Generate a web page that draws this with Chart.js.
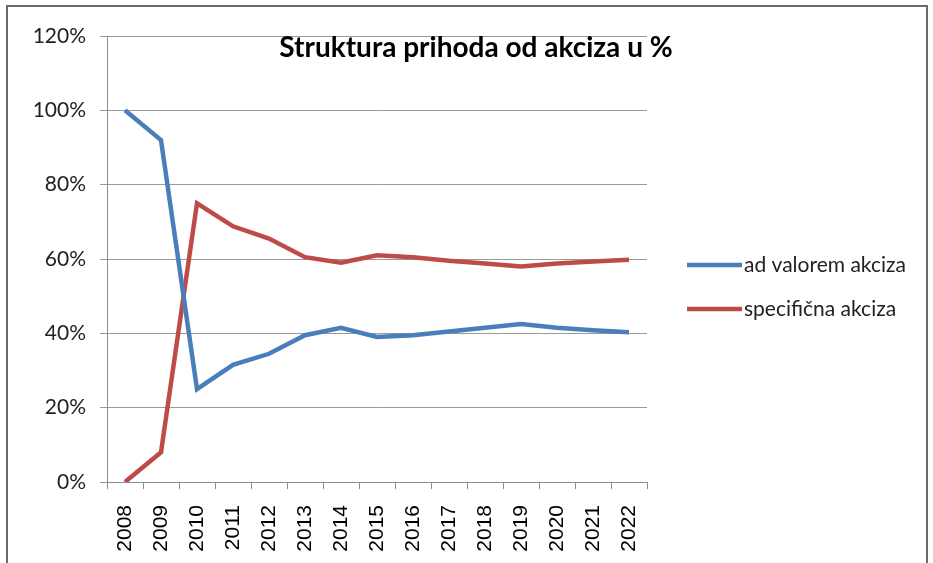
<!DOCTYPE html>
<html>
<head>
<meta charset="utf-8">
<script src="https://cdn.jsdelivr.net/npm/chart.js@4"></script>
<style>
  html, body { margin: 0; padding: 0; background: #fff; }
  #wrap { width: 933px; height: 563px; position: relative; }
</style>
</head>
<body>
<div id="wrap"><canvas id="mycanvas" width="933" height="563"></canvas></div>
<script>
// years on the x axis
var years = ['2008','2009','2010','2011','2012','2013','2014','2015','2016','2017','2018','2019','2020','2021','2022'];
// share of excise revenue, in %
var adValorem = [100, 92, 25, 31.5, 34.5, 39.5, 41.5, 39, 39.5, 40.5, 41.5, 42.5, 41.5, 40.8, 40.3];
var specificna = [0, 8, 75, 68.8, 65.5, 60.5, 59, 61, 60.5, 59.5, 58.8, 58, 58.8, 59.3, 59.8];
var seriesNames = ['ad valorem akciza', 'specifična akciza'];
var chartTitle = 'Struktura prihoda od akciza u %';

// frame, title and legend drawn by hand (Excel style)
var excelBits = {
  id: 'excelBits',
  beforeDraw: function(chart) {
    var c = chart.ctx;
    c.save();
    c.fillStyle = '#fff';
    c.fillRect(0, 0, chart.width, chart.height);
    c.strokeStyle = '#6b6b6b';
    c.lineWidth = 2;
    c.beginPath();
    c.moveTo(7, 563);
    c.lineTo(7, 6);
    c.lineTo(927, 6);
    c.lineTo(927, 563);
    c.stroke();
    c.restore();
  },
  afterDraw: function(chart) {
    var c = chart.ctx;
    c.save();
    c.fillStyle = '#000';
    c.font = 'bold 28px Lato, sans-serif';
    c.textAlign = 'center';
    c.textBaseline = 'alphabetic';
    c.fillText(chartTitle, 476, 57);

    c.font = '21px Lato, sans-serif';
    c.textAlign = 'left';
    c.textBaseline = 'middle';
    chart.data.datasets.forEach(function(ds, i) {
      var y = 265 + i * 44;
      c.strokeStyle = ds.borderColor;
      c.lineWidth = 4.5;
      c.beginPath();
      c.moveTo(687, y);
      c.lineTo(742, y);
      c.stroke();
      c.fillStyle = '#222';
      c.fillText(ds.label, 744, y);
    });
    c.restore();
  }
};

var ctx = document.getElementById('mycanvas');
var lineGraph = new Chart(ctx, {
  type: 'line',
  data: {
    labels: years,
    datasets: [
      {
        label: seriesNames[0],
        data: adValorem,
        borderColor: '#4a7ebb',
        backgroundColor: '#4a7ebb',
        borderWidth: 4.5,
        pointRadius: 0,
        tension: 0,
        fill: false
      },
      {
        label: seriesNames[1],
        data: specificna,
        borderColor: '#be4b48',
        backgroundColor: '#be4b48',
        borderWidth: 4.5,
        pointRadius: 0,
        tension: 0,
        fill: false
      }
    ]
  },
  options: {
    responsive: false,
    animation: false,
    layout: { padding: { top: 36, right: 286, bottom: 0, left: 0 } },
    scales: {
      x: {
        offset: true,
        afterFit: function(scale) { scale.height = 81; },
        grid: { offset: true, drawOnChartArea: false, drawTicks: true, tickLength: 7, color: '#8c8c8c' },
        border: { color: '#8c8c8c', width: 1 },
        ticks: {
          minRotation: 90,
          maxRotation: 90,
          autoSkip: false,
          padding: 16,
          color: '#000',
          font: { family: '"Liberation Sans", Arial, sans-serif', size: 21 }
        }
      },
      y: {
        min: 0,
        max: 120,
        afterFit: function(scale) { scale.width = 107; },
        grid: { color: '#9a9a9a', drawTicks: true, tickLength: 7, lineWidth: 1 },
        border: { color: '#8c8c8c', width: 1 },
        ticks: {
          stepSize: 20,
          padding: 14,
          color: '#222',
          font: { family: 'Lato, sans-serif', size: 21 },
          callback: function(v) { return v + '%'; }
        }
      }
    },
    plugins: {
      legend: { display: false },
      title: { display: false },
      tooltip: { enabled: false }
    }
  },
  plugins: [excelBits]
});
</script>
</body>
</html>
